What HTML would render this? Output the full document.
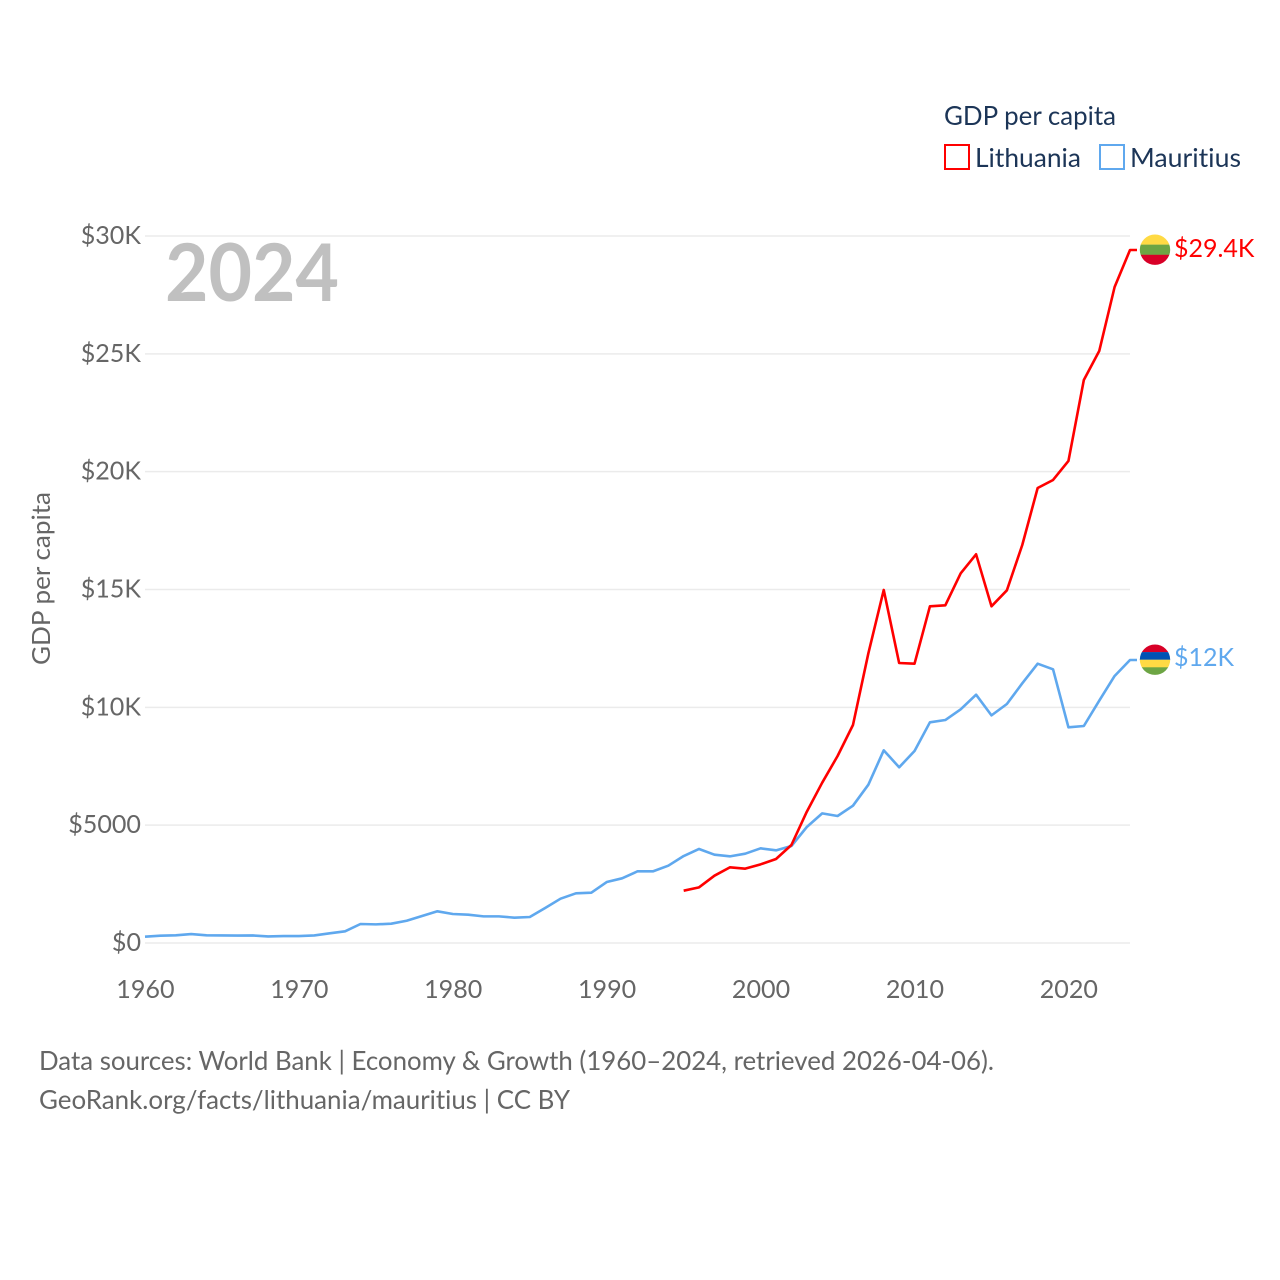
<!DOCTYPE html>
<html lang="en">
<head>
<meta charset="utf-8">
<title>GDP per capita: Lithuania and Mauritius</title>
<style>
html,body{margin:0;padding:0;background:#fff;width:1280px;height:1280px;overflow:hidden}
svg{display:block}
text{font-family:"Lato","Carlito","Liberation Sans",sans-serif;font-variant-ligatures:none}
</style>
</head>
<body>
<svg id="chart" xmlns="http://www.w3.org/2000/svg" width="1280" height="1280" viewBox="0 0 1280 1280">
  <rect width="1280" height="1280" fill="#fff"/>
  <g id="grid"></g>
  <g id="ytick-labels"></g>
  <g id="xtick-labels"></g>
  <text x="165" y="301" font-size="80" font-weight="700" fill="#c0c0c0" textLength="174" lengthAdjust="spacingAndGlyphs">2024</text>
  <g id="series"></g>
  <defs>
    <clipPath id="clip-lt"><circle cx="1155" cy="249.7" r="15.2"/></clipPath>
    <clipPath id="clip-mu"><circle cx="1155" cy="659.7" r="15.2"/></clipPath>
  </defs>
  <text transform="translate(50,665) rotate(-90)" font-size="25" fill="#666" textLength="173" lengthAdjust="spacingAndGlyphs">GDP per capita</text>
  <g>
    <text x="944" y="125" font-size="26" fill="#1c3557" textLength="172" lengthAdjust="spacingAndGlyphs">GDP per capita</text>
    <rect x="945" y="145" width="24" height="24" fill="none" stroke="#ff0000" stroke-width="2"/>
    <text x="975" y="167" font-size="26" fill="#1c3557" textLength="106" lengthAdjust="spacingAndGlyphs">Lithuania</text>
    <rect x="1100" y="145" width="24" height="24" fill="none" stroke="#5fa8ee" stroke-width="2"/>
    <text x="1130" y="167" font-size="26" fill="#1c3557" textLength="111" lengthAdjust="spacingAndGlyphs">Mauritius</text>
  </g>
  <g>
    <text x="39" y="1070" font-size="26" fill="#666" textLength="955" lengthAdjust="spacingAndGlyphs">Data sources: World Bank | Economy &amp; Growth (1960–2024, retrieved 2026-04-06).</text>
    <text x="39" y="1109" font-size="26" fill="#666" textLength="531" lengthAdjust="spacingAndGlyphs">GeoRank.org/facts/lithuania/mauritius | CC BY</text>
  </g>
</svg>
<script>
const years = [1960,1961,1962,1963,1964,1965,1966,1967,1968,1969,1970,1971,1972,1973,1974,1975,1976,1977,1978,1979,1980,1981,1982,1983,1984,1985,1986,1987,1988,1989,1990,1991,1992,1993,1994,1995,1996,1997,1998,1999,2000,2001,2002,2003,2004,2005,2006,2007,2008,2009,2010,2011,2012,2013,2014,2015,2016,2017,2018,2019,2020,2021,2022,2023,2024];
const mauritiusValues = [267,310,325,380,325,320,315,320,280,295,295,320,410,495,806,790,820,945,1145,1345,1230,1200,1130,1130,1075,1103,1485,1880,2108,2135,2588,2745,3040,3040,3280,3691,3989,3747,3677,3790,4017,3932,4116,4922,5500,5389,5827,6718,8176,7455,8147,9364,9462,9916,10536,9658,10141,11019,11851,11613,9152,9208,10281,11330,12008];
const lithuaniaYears = [1995,1996,1997,1998,1999,2000,2001,2002,2003,2004,2005,2006,2007,2008,2009,2010,2011,2012,2013,2014,2015,2016,2017,2018,2019,2020,2021,2022,2023,2024];
const lithuaniaValues = [2220,2362,2857,3210,3155,3338,3564,4158,5570,6803,7935,9250,12293,14979,11881,11851,14287,14330,15688,16493,14287,14966,16888,19307,19647,20453,23890,25120,27836,29406];
const yTickValues = [0,5000,10000,15000,20000,25000,30000];
const yTickLabels = ["$0","$5000","$10K","$15K","$20K","$25K","$30K"];
const xTickValues = [1960,1970,1980,1990,2000,2010,2020];
const xTickLabels = ["1960","1970","1980","1990","2000","2010","2020"];
const lithuaniaEndLabel = "$29.4K";
const mauritiusEndLabel = "$12K";
const NS = "http://www.w3.org/2000/svg";

function xScale(year){ return 145 + (year - 1960) * (1130 - 145) / 64; }
function yScale(value){ return 943 - value * (943 - 236) / 30000; }

function make(tag, attrs, parent, content){
  const el = document.createElementNS(NS, tag);
  for (const k in attrs) el.setAttribute(k, attrs[k]);
  if (content !== undefined) el.textContent = content;
  parent.appendChild(el);
  return el;
}

const gridG = document.getElementById("grid");
const yLabG = document.getElementById("ytick-labels");
const xLabG = document.getElementById("xtick-labels");
const seriesG = document.getElementById("series");
const svg = document.getElementById("chart");

yTickValues.forEach(function(v, i){
  const line = make("line", {x1:145, x2:1130, y1:yScale(v), y2:yScale(v), stroke:"#ebebeb", "stroke-width":1.5}, gridG);
  
  
  const t = make("text", {x:141, y:yScale(v)+8, "text-anchor":"end", "font-size":25.1, fill:"#666"}, yLabG, yTickLabels[i]);
  
  
});

xTickValues.forEach(function(v, i){
  const t = make("text", {x:xScale(v)+0.4, y:998, "text-anchor":"middle", "font-size":25.1, fill:"#666"}, xLabG, xTickLabels[i]);
  
  
});

function drawSeries(xs, ys, color, name){
  const pts = xs.map(function(yr, i){ return xScale(yr).toFixed(2) + "," + yScale(ys[i]).toFixed(2); });
  const lastY = yScale(ys[ys.length-1]);
  pts.push((xScale(xs[xs.length-1]) + 7).toFixed(2) + "," + lastY.toFixed(2));
  const p = make("polyline", {points:pts.join(" "), fill:"none", stroke:color, "stroke-width":2.6, "stroke-linejoin":"round"}, seriesG);
  
  
}
drawSeries(years, mauritiusValues, "#5fa8ee", "line-mauritius");
drawSeries(lithuaniaYears, lithuaniaValues, "#ff0000", "line-lithuania");

function drawFlag(cy, clipId, stripes, name){
  const g = make("g", {"clip-path":"url(#" + clipId + ")"}, svg);
  
  
  const h = 30.4 / stripes.length;
  stripes.forEach(function(c, i){
    make("rect", {x:1139, y:cy-15.2+i*h, width:32, height:h+0.2, fill:c}, g);
  });
}
drawFlag(249.7, "clip-lt", ["#ffda44","#6da544","#d80027"], "flag-lithuania");
drawFlag(659.7, "clip-mu", ["#d80027","#0052b4","#ffda44","#6da544"], "flag-mauritius");

const l1 = make("text", {x:1174, y:257, "font-size":25, fill:"#ff0000"}, svg, lithuaniaEndLabel);


const l2 = make("text", {x:1174, y:666, "font-size":25, fill:"#5fa8ee"}, svg, mauritiusEndLabel);


</script>
</body>
</html>
